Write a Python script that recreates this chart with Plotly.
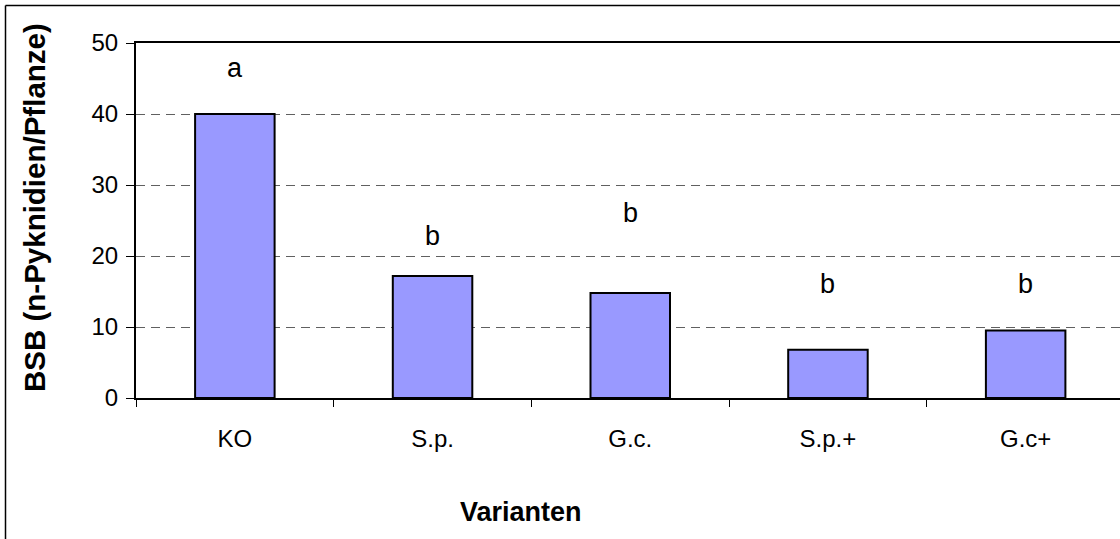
import plotly.graph_objects as go

categories = ["KO", "S.p.", "G.c.", "S.p.+", "G.c+"]
values = [40.0, 17.2, 14.8, 6.8, 9.5]
letters = ["a", "b", "b", "b", "b"]
letter_y = [46.5, 22.8, 26.1, 16.1, 16.1]
y_ticks = [0, 10, 20, 30, 40, 50]

FONT = "Liberation Sans, Arial, sans-serif"
W, H = 1120, 539
L, T, B = 136, 43, 141
pw = W - L
ph = H - T - B
step = 197.7

fig = go.Figure()
fig.add_trace(go.Bar(
    x=categories, y=values,
    marker=dict(color="#9999FF", line=dict(color="black", width=2)),
    showlegend=False,
))

for c, l, yv in zip(categories, letters, letter_y):
    fig.add_annotation(x=c, y=yv, xref="x", yref="y", text=l, showarrow=False,
                       font=dict(family=FONT, size=27, color="black"),
                       xanchor="center", yanchor="middle")

def px(xpix):
    return (xpix - L) / pw

def py(ypix):
    return (H - B - ypix) / ph

fig.add_annotation(x=px(34), y=py(208), xref="paper", yref="paper",
                   text="<b>BSB (n-Pyknidien/Pflanze)</b>", textangle=-90,
                   showarrow=False, font=dict(family=FONT, size=29.5, color="black"),
                   xanchor="center", yanchor="middle")
fig.add_annotation(x=px(521), y=py(512), xref="paper", yref="paper",
                   text="<b>Varianten</b>", showarrow=False,
                   font=dict(family=FONT, size=27, color="black"),
                   xanchor="center", yanchor="middle")

# outer frame (left and top edges)
fig.add_shape(type="line", xref="paper", yref="paper",
              x0=px(5.5), x1=px(5.5), y0=py(560), y1=py(5.5),
              line=dict(color="black", width=1.5))
fig.add_shape(type="line", xref="paper", yref="paper",
              x0=px(5.5), x1=px(1140), y0=py(5.5), y1=py(5.5),
              line=dict(color="black", width=1.5))

fig.update_layout(
    width=W, height=H,
    margin=dict(l=L, r=0, t=T, b=B, pad=0),
    paper_bgcolor="white", plot_bgcolor="white",
    bargap=1 - 79.5 / step,
    font=dict(family=FONT, size=24, color="black"),
)
fig.update_xaxes(
    type="category", range=[-0.5, -0.5 + pw / step],
    showline=True, linecolor="black", linewidth=2, mirror=True,
    ticks="outside", tickson="boundaries", ticklen=7, tickcolor="black", tickwidth=1,
    showgrid=False, tickfont=dict(family=FONT, size=24, color="black"),
    ticklabelstandoff=18,
)
fig.update_yaxes(
    range=[0, 50], tickvals=y_ticks,
    showline=True, linecolor="black", linewidth=2,
    ticks="outside", ticklen=8, tickcolor="black", tickwidth=1,
    showgrid=True, gridcolor="#606060", gridwidth=1, griddash="9px,6px",
    zeroline=False, tickfont=dict(family=FONT, size=24, color="black"),
    ticklabelstandoff=3,
)

fig.write_html("out.html", config={"displayModeBar": False},
               post_script="document.body.style.margin='0';document.body.style.overflow='hidden';")
